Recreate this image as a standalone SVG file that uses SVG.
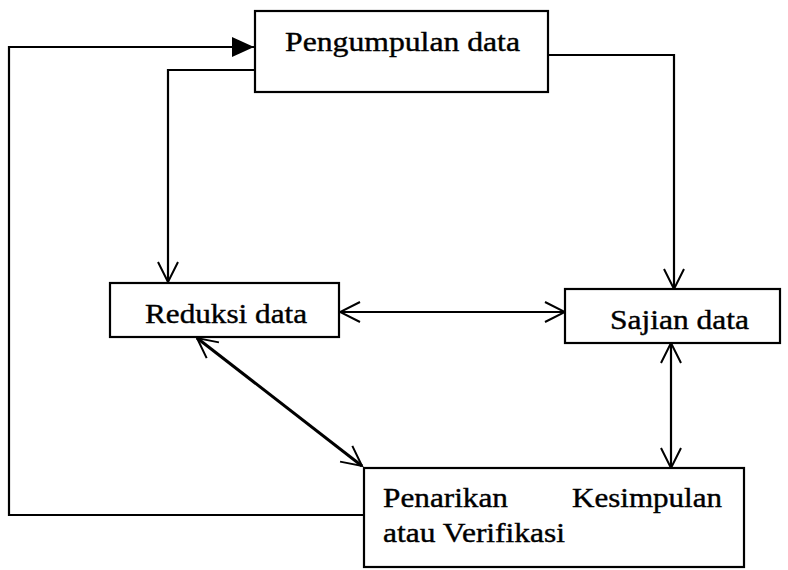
<svg xmlns="http://www.w3.org/2000/svg" width="788" height="570" viewBox="0 0 788 570">
  <style>
    .box { fill: #fff; stroke: #000; stroke-width: 2.2; }
    .lbl { font-family: "Liberation Serif", "Times New Roman", serif; font-size: 28px; fill: #000; stroke: #000; stroke-width: 0.4; }
    .conn { fill: none; stroke: #000; stroke-width: 2.2; }
    .thick { stroke-width: 3; }
  </style>
  <defs>
    <marker id="open" viewBox="-24 -13 26 26" refX="0" refY="0" markerWidth="26" markerHeight="26" markerUnits="userSpaceOnUse" orient="auto-start-reverse">
      <path d="M-20,-10 L0,0 L-20,10" fill="none" stroke="#000" stroke-width="2"/>
    </marker>
    <marker id="solid" viewBox="-24 -12 26 24" refX="0" refY="0" markerWidth="26" markerHeight="24" markerUnits="userSpaceOnUse" orient="auto">
      <path d="M-22,-10 L0,0 L-22,10 Z" fill="#000"/>
    </marker>
  </defs>

  <g id="connectors">
    <!-- feedback loop from conclusion back to data collection -->
    <path class="conn" d="M364,515 L9,515 L9,47 L254,47" marker-end="url(#solid)"/>
    <!-- collection to reduction -->
    <path class="conn" d="M255,70 L168,70 L168,282" marker-end="url(#open)"/>
    <!-- collection to display -->
    <path class="conn" d="M548,55 L674,55 L674,289" marker-end="url(#open)"/>
    <!-- reduction <-> display -->
    <path class="conn" d="M340,312 L565,312" marker-start="url(#open)" marker-end="url(#open)"/>
    <!-- display <-> conclusion -->
    <path class="conn" d="M671,343 L671,468" marker-start="url(#open)" marker-end="url(#open)"/>
    <!-- reduction <-> conclusion -->
    <path class="conn thick" d="M197,338 L362,466" marker-start="url(#open)" marker-end="url(#open)"/>
  </g>

  <g id="pengumpulan">
    <rect class="box" x="255" y="11" width="293" height="81"/>
    <text class="lbl" x="285" y="51" textLength="235" lengthAdjust="spacingAndGlyphs">Pengumpulan data</text>
  </g>

  <g id="reduksi">
    <rect class="box" x="110" y="283" width="229" height="54"/>
    <text class="lbl" x="145" y="323" textLength="162" lengthAdjust="spacingAndGlyphs">Reduksi data</text>
  </g>

  <g id="sajian">
    <rect class="box" x="565" y="289" width="215" height="54"/>
    <text class="lbl" x="610" y="329" textLength="139" lengthAdjust="spacingAndGlyphs">Sajian data</text>
  </g>

  <g id="penarikan">
    <rect class="box" x="364" y="468" width="380" height="99"/>
    <text class="lbl" x="383" y="507" textLength="125" lengthAdjust="spacingAndGlyphs">Penarikan</text>
    <text class="lbl" x="572" y="507" textLength="150" lengthAdjust="spacingAndGlyphs">Kesimpulan</text>
    <text class="lbl" x="383" y="542" textLength="182" lengthAdjust="spacingAndGlyphs">atau Verifikasi</text>
  </g>
</svg>
